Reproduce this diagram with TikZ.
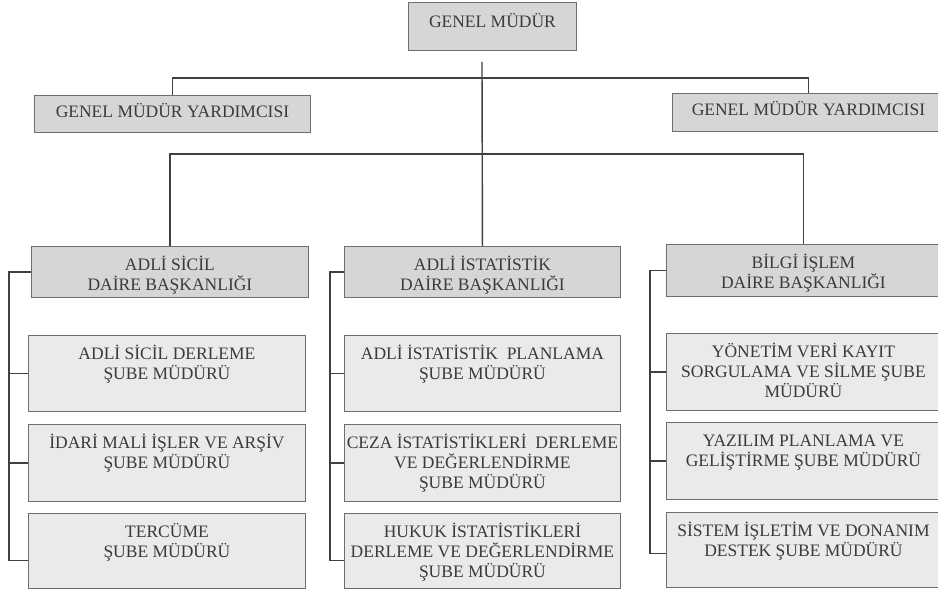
\documentclass[tikz,border=0pt]{standalone}
\usepackage{fontspec}
\setmainfont{Liberation Serif}
\definecolor{topfill}{HTML}{D6D6D6}
\definecolor{subfill}{HTML}{EAEAEA}
\definecolor{bcol}{HTML}{6E6E6E}
\definecolor{lcol}{HTML}{404040}
\definecolor{tcol}{HTML}{3A3A3A}
\newcommand{\boxfont}{\fontsize{17.5}{20}\selectfont}
\newcommand{\tstrut}{\rule{0pt}{15pt}}
\tikzset{
  topbox/.style={draw=bcol, fill=topfill, line width=0.9pt, anchor=north west, inner sep=0pt},
  subbox/.style={draw=bcol, fill=subfill, line width=0.9pt, anchor=north west, inner sep=0pt},
  btext/.style={anchor=north, inner sep=0pt, align=center, text=tcol, font=\boxfont},
  conn/.style={draw=lcol, line width=1.4pt}
}
\begin{document}
\begin{tikzpicture}[x=1pt,y=-1pt]
\useasboundingbox (0,0) rectangle (938,593);
\fill[white] (0,0) rectangle (938,593);
% boxes
\node[topbox, minimum width=168pt, minimum height=48pt] (gm) at (408,2) {};
\node[topbox, minimum width=276pt, minimum height=37pt] (gmy1) at (34,95) {};
\node[topbox, minimum width=272pt, minimum height=38pt] (gmy2) at (672,93) {};
\node[topbox, minimum width=277pt, minimum height=51pt] (das) at (31,246) {};
\node[topbox, minimum width=276pt, minimum height=51pt] (dai) at (344,246) {};
\node[topbox, minimum width=274pt, minimum height=52pt] (dab) at (666,244) {};
\node[subbox, minimum width=277pt, minimum height=76pt] (s11) at (28,335) {};
\node[subbox, minimum width=277pt, minimum height=77pt] (s12) at (28,424) {};
\node[subbox, minimum width=277pt, minimum height=75pt] (s13) at (28,513) {};
\node[subbox, minimum width=276pt, minimum height=76pt] (s21) at (344,335) {};
\node[subbox, minimum width=276pt, minimum height=77pt] (s22) at (344,424) {};
\node[subbox, minimum width=276pt, minimum height=75pt] (s23) at (344,513) {};
\node[subbox, minimum width=274pt, minimum height=77pt] (s31) at (666,333) {};
\node[subbox, minimum width=274pt, minimum height=77pt] (s32) at (666,422) {};
\node[subbox, minimum width=274pt, minimum height=75pt] (s33) at (666,512) {};
% texts
\node[btext] (tgm) at ([yshift=-10pt]gm.north) {\tstrut GENEL MÜDÜR};
\node[btext] (tgmy1) at ([yshift=-7pt]gmy1.north) {\tstrut GENEL MÜDÜR YARDIMCISI};
\node[btext] (tgmy2) at ([yshift=-7pt]gmy2.north) {\tstrut GENEL MÜDÜR YARDIMCISI};
\node[btext] (tdas) at ([yshift=-9pt]das.north) {\tstrut ADLİ SİCİL\\DAİRE BAŞKANLIĞI};
\node[btext] (tdai) at ([yshift=-9pt]dai.north) {\tstrut ADLİ İSTATİSTİK\\DAİRE BAŞKANLIĞI};
\node[btext] (tdab) at ([yshift=-9pt]dab.north) {\tstrut BİLGİ İŞLEM\\DAİRE BAŞKANLIĞI};
\node[btext] (ts11) at ([yshift=-9pt]s11.north) {\tstrut ADLİ SİCİL DERLEME\\ŞUBE MÜDÜRÜ};
\node[btext] (ts12) at ([yshift=-9pt]s12.north) {\tstrut İDARİ MALİ İŞLER VE ARŞİV\\ŞUBE MÜDÜRÜ};
\node[btext] (ts13) at ([yshift=-9pt]s13.north) {\tstrut TERCÜME\\ŞUBE MÜDÜRÜ};
\node[btext] (ts21) at ([yshift=-9pt]s21.north) {\tstrut ADLİ İSTATİSTİK\ \ PLANLAMA\\ŞUBE MÜDÜRÜ};
\node[btext] (ts22) at ([yshift=-9pt]s22.north) {\tstrut CEZA İSTATİSTİKLERİ\ \ DERLEME\\VE DEĞERLENDİRME\\ŞUBE MÜDÜRÜ};
\node[btext] (ts23) at ([yshift=-9pt]s23.north) {\tstrut HUKUK İSTATİSTİKLERİ\\DERLEME VE DEĞERLENDİRME\\ŞUBE MÜDÜRÜ};
\node[btext] (ts31) at ([yshift=-9pt]s31.north) {\tstrut YÖNETİM VERİ KAYIT\\SORGULAMA VE SİLME ŞUBE\\MÜDÜRÜ};
\node[btext] (ts32) at ([yshift=-9pt]s32.north) {\tstrut YAZILIM PLANLAMA VE\\GELİŞTİRME ŞUBE MÜDÜRÜ};
\node[btext] (ts33) at ([yshift=-9pt]s33.north) {\tstrut SİSTEM İŞLETİM VE DONANIM\\DESTEK ŞUBE MÜDÜRÜ};
% helper coordinates
\coordinate (t0) at (482,62);
\coordinate (h1) at (0,78);
\coordinate (h2) at (0,154);
\coordinate (lx) at (9,0);
\coordinate (mx) at (330,0);
\coordinate (rx) at (650,0);
% connectors
\draw[conn] (t0) -- (dai.north);
\draw[conn] (gmy1.north) -- (gmy1.north |- h1) -| (gmy2.north);
\draw[conn] (das.north) -- (das.north |- h2) -| (dab.north);
\draw[conn] (das.west) -- (das.west -| lx) |- ([yshift=-9.5pt]s13.west);
\draw[conn] (s11.west -| lx) -- (s11.west);
\draw[conn] (s12.west -| lx) -- (s12.west);
\draw[conn] (dai.west) -- (dai.west -| mx) |- ([yshift=-9.5pt]s23.west);
\draw[conn] (s21.west -| mx) -- (s21.west);
\draw[conn] (s22.west -| mx) -- (s22.west);
\draw[conn] (dab.west) -- (dab.west -| rx) |- ([yshift=-3.5pt]s33.west);
\draw[conn] (s31.west -| rx) -- (s31.west);
\draw[conn] (s32.west -| rx) -- (s32.west);
\end{tikzpicture}
\end{document}
